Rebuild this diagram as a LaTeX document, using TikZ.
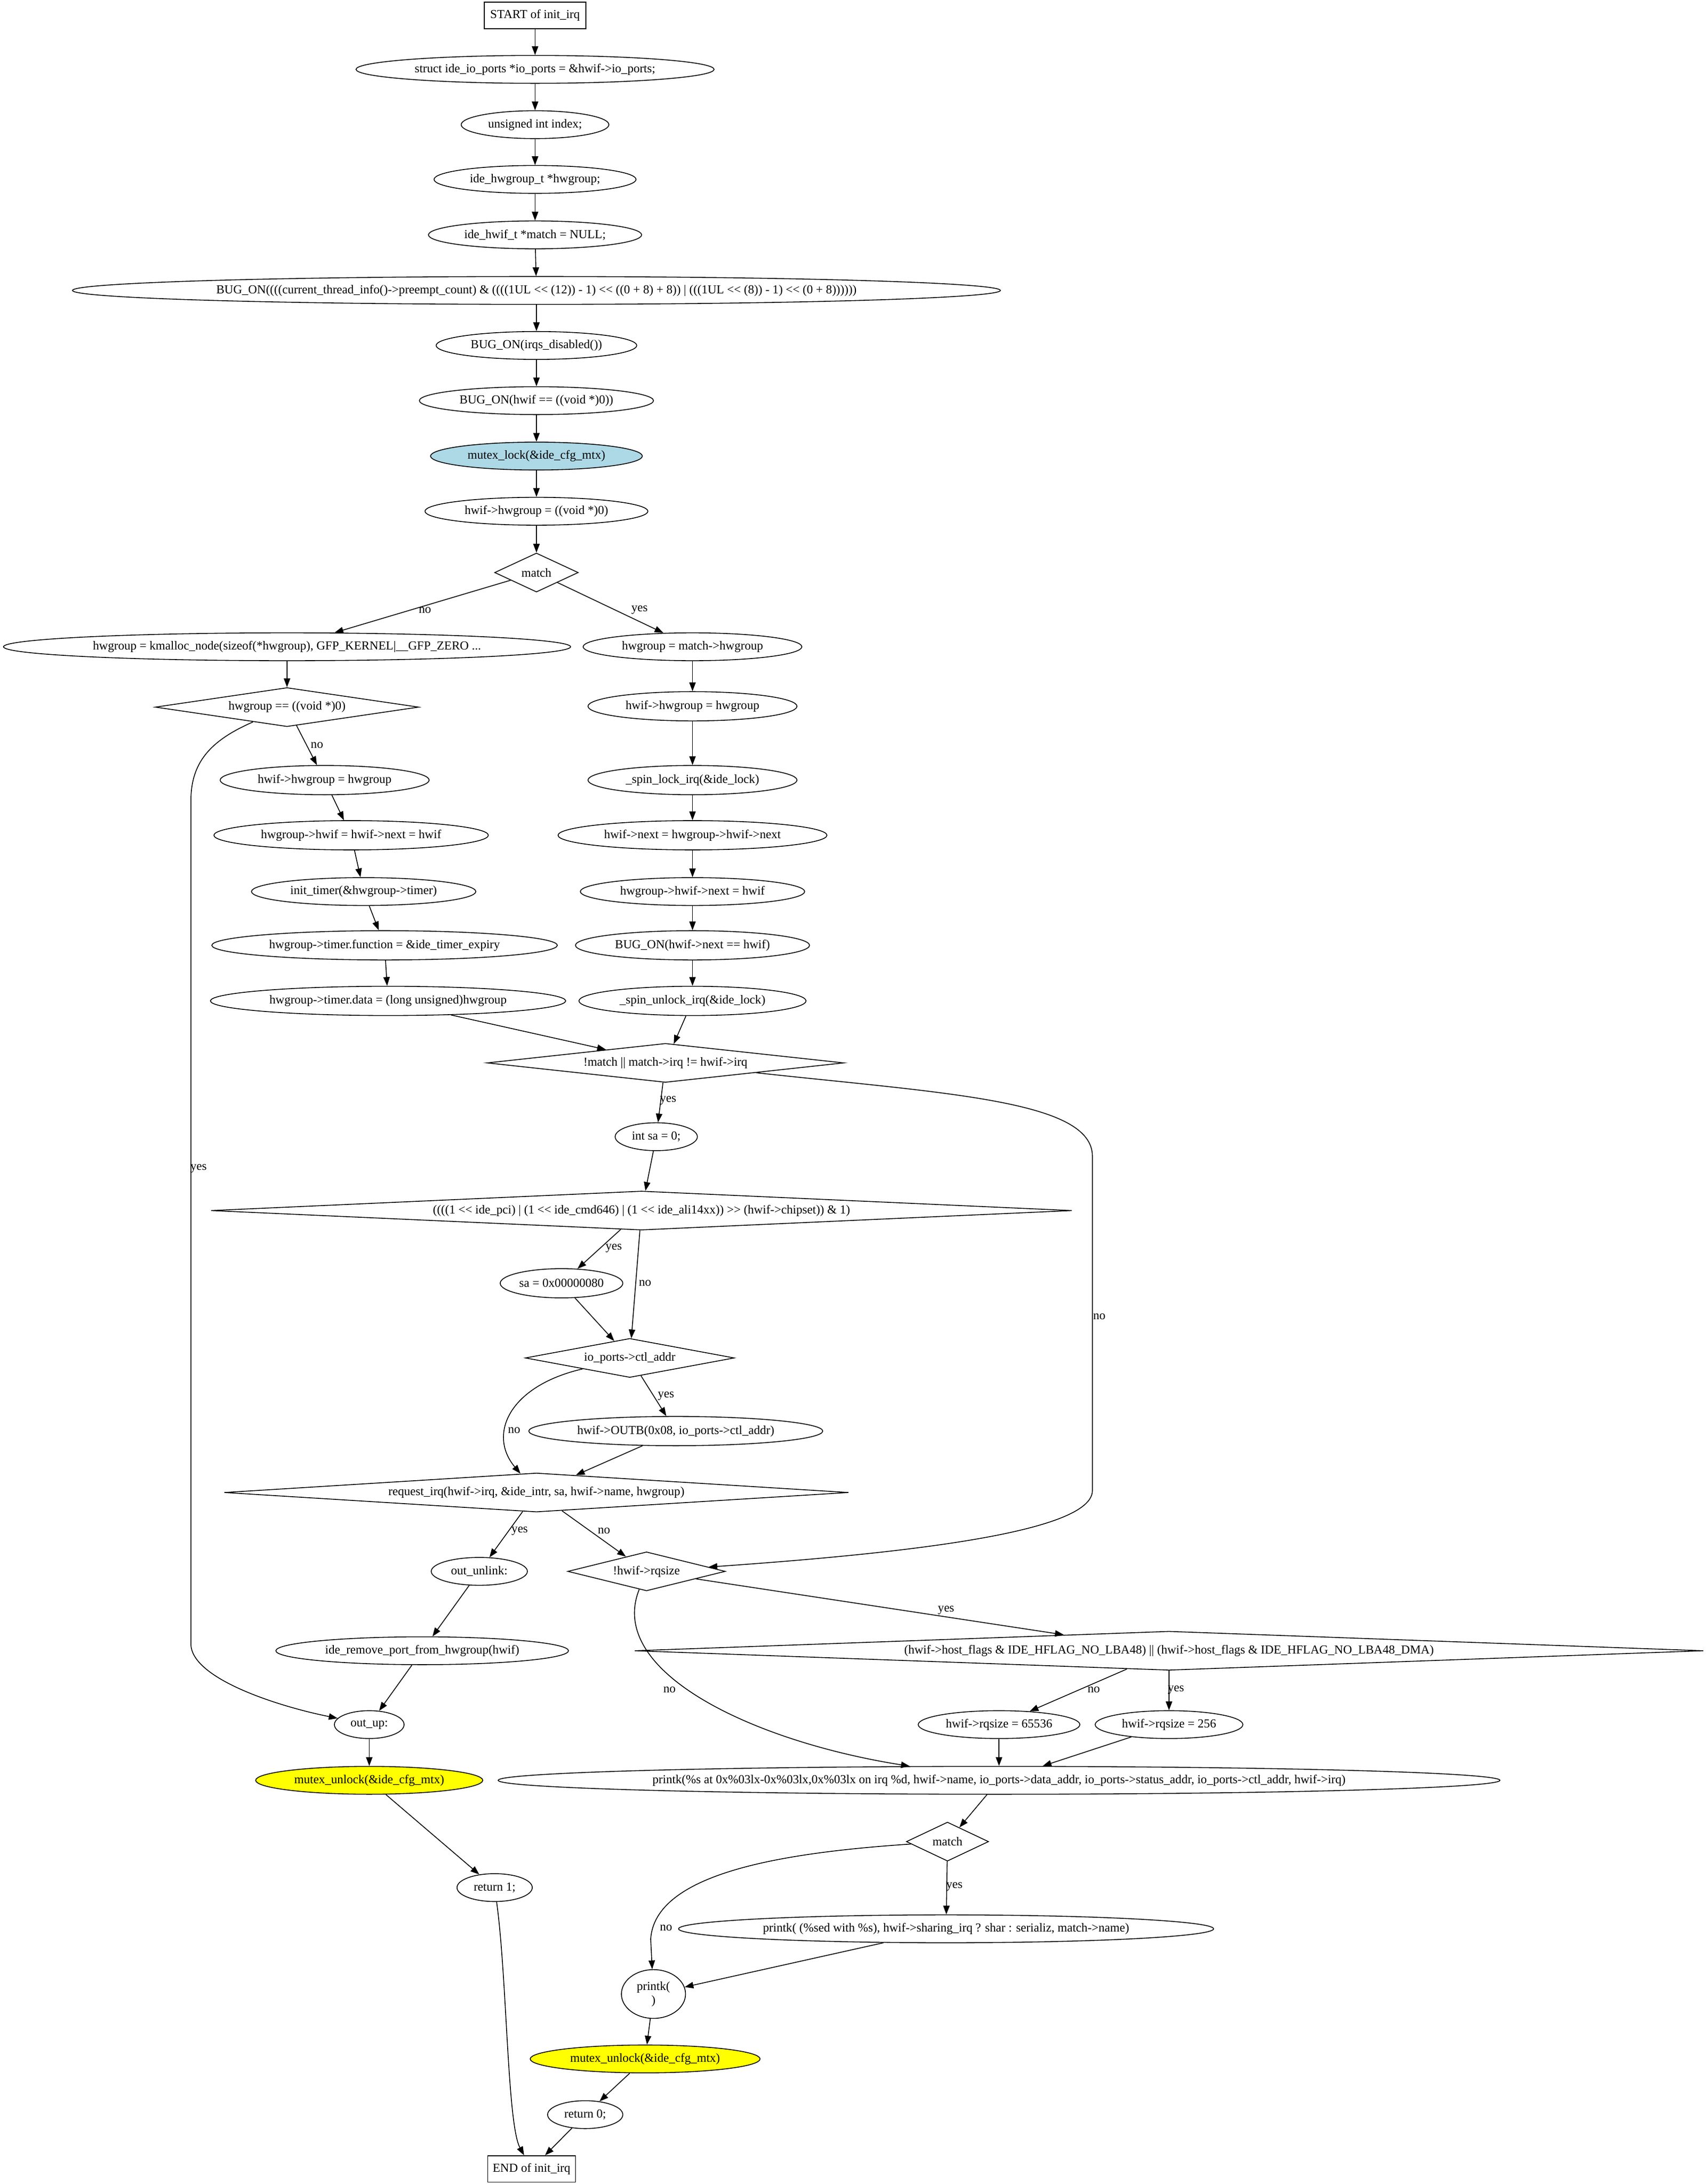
\documentclass[tikz,border=0pt]{standalone}
\usepackage{fontspec}
\setmainfont{Liberation Serif}[Ligatures=TeXOff]
\usetikzlibrary{shapes.geometric,arrows.meta}
\definecolor{lblue}{RGB}{173,216,230}
\definecolor{yel}{RGB}{255,255,0}
\newcommand{\zt}[1]{\makebox[0pt]{#1}}
\tikzset{
  el/.style={ellipse, draw, inner sep=0pt},
  dm/.style={diamond, draw, inner sep=0pt},
  bx/.style={rectangle, draw, inner sep=0pt},
  sz/.style 2 args={minimum width=#1pt, minimum height=#2pt},
  e/.style={-{Triangle[length=6.3pt,width=4.6pt]}},
  lb/.style={inner sep=0pt}
}
\begin{document}
\begin{tikzpicture}[x=1pt,y=-1pt,
  font=\fontsize{8.8}{10}\selectfont,
  line width=0.6pt]
\fill[white] (0,0) rectangle (1224.3,1567.8);
\useasboundingbox (0,0) rectangle (1224.3,1567.8);

% top chain
\node[bx, sz={73}{19}] (start) at (384,11) {\zt{START of init\_irq}};
\node[el, sz={257}{20}] (n1) at (384,49.8) {\zt{struct ide\_io\_ports *io\_ports = \&hwif->io\_ports;}};
\node[el, sz={106}{20}] (n2) at (384,89.5) {\zt{unsigned int index;}};
\node[el, sz={145}{20}] (n3) at (384,128.8) {\zt{ide\_hwgroup\_t *hwgroup;}};
\node[el, sz={153}{20}] (n4) at (384,168.6) {\zt{ide\_hwif\_t *match = NULL;}};
\node[el, sz={666}{20}] (n5) at (385,208.5) {\zt{BUG\_ON((((current\_thread\_info()->preempt\_count) \& ((((1UL << (12)) - 1) << ((0 + 8) + 8)) | (((1UL << (8)) - 1) << (0 + 8))))))}};
\node[el, sz={144}{20}] (n6) at (385,248) {\zt{BUG\_ON(irqs\_disabled())}};
\node[el, sz={168}{20}] (n7) at (385,287.6) {\zt{BUG\_ON(hwif == ((void *)0))}};
\node[el, sz={152}{20}, fill=lblue] (n8) at (385,327.4) {\zt{mutex\_lock(\&ide\_cfg\_mtx)}};
\node[el, sz={160}{20}] (n9) at (385,367) {\zt{hwif->hwgroup = ((void *)0)}};
\node[dm, sz={60}{28}, aspect=2.14] (m1) at (385,411) {\zt{match}};

% left branch
\node[el, sz={407}{20}] (kma) at (206,464.3) {\zt{hwgroup = kmalloc\_node(sizeof(*hwgroup), GFP\_KERNEL|\_\_GFP\_ZERO ...}};
\node[dm, sz={189}{28}, aspect=6.75] (hgn) at (206,507.6) {\zt{hwgroup == ((void *)0)}};
\node[el, sz={150}{21}] (lhh) at (233,560) {\zt{hwif->hwgroup = hwgroup}};
\node[el, sz={197}{21}] (lhw) at (252,599.6) {\zt{hwgroup->hwif = hwif->next = hwif}};
\node[el, sz={161}{20}] (itm) at (261,640) {\zt{init\_timer(\&hwgroup->timer)}};
\node[el, sz={248}{21}] (tfn) at (276,678.6) {\zt{hwgroup->timer.function = \&ide\_timer\_expiry}};
\node[el, sz={255}{21}] (tdt) at (278.5,718.5) {\zt{hwgroup->timer.data = (long unsigned)hwgroup}};

% right branch
\node[el, sz={157}{20}] (hgm) at (497,464.3) {\zt{hwgroup = match->hwgroup}};
\node[el, sz={150}{21}] (rhh) at (497,507) {\zt{hwif->hwgroup = hwgroup}};
\node[el, sz={150}{21}] (slk) at (497,560) {\zt{\_spin\_lock\_irq(\&ide\_lock)}};
\node[el, sz={193}{21}] (rnx) at (497,599.6) {\zt{hwif->next = hwgroup->hwif->next}};
\node[el, sz={161}{20}] (rhn) at (497,640) {\zt{hwgroup->hwif->next = hwif}};
\node[el, sz={168}{21}] (bgn) at (497,678.6) {\zt{BUG\_ON(hwif->next == hwif)}};
\node[el, sz={163}{21}] (sul) at (497,718.5) {\zt{\_spin\_unlock\_irq(\&ide\_lock)}};

% middle
\node[dm, sz={256}{28}, aspect=9.14] (nmi) at (477.6,763) {\zt{!match || match->irq != hwif->irq}};
\node[el, sz={59}{20}] (isa) at (471,816) {\zt{int sa = 0;}};
\node[dm, sz={618}{28}, aspect=22] (chp) at (460.4,869) {\zt{((((1 << ide\_pci) | (1 << ide\_cmd646) | (1 << ide\_ali14xx)) >> (hwif->chipset)) \& 1)}};
\node[el, sz={88}{21}] (sa8) at (403,921.2) {\zt{sa = 0x00000080}};
\node[dm, sz={150}{28}, aspect=5.36] (ioc) at (452,974.8) {\zt{io\_ports->ctl\_addr}};
\node[el, sz={211}{21}] (outb) at (485,1027.3) {\zt{hwif->OUTB(0x08, io\_ports->ctl\_addr)}};
\node[dm, sz={448}{28}, aspect=16] (req) at (385,1071.4) {\zt{request\_irq(hwif->irq, \&ide\_intr, sa, hwif->name, hwgroup)}};
\node[el, sz={69}{20}] (unl) at (344,1128) {\zt{out\_unlink:}};
\node[dm, sz={113}{28}, aspect=4.04] (rqs) at (464,1128) {\zt{!hwif->rqsize}};
\node[el, sz={210}{20}] (rmv) at (303,1185) {\zt{ide\_remove\_port\_from\_hwgroup(hwif)}};
\node[dm, sz={767}{28}, aspect=27.4] (hfl) at (839,1185) {\zt{(hwif->host\_flags \& IDE\_HFLAG\_NO\_LBA48) || (hwif->host\_flags \& IDE\_HFLAG\_NO\_LBA48\_DMA)}};
\node[el, sz={50}{20}] (oup) at (265,1238) {\zt{out\_up:}};
\node[el, sz={116}{20}] (r64) at (717,1238) {\zt{hwif->rqsize = 65536}};
\node[el, sz={106}{20}] (r256) at (839,1238) {\zt{hwif->rqsize = 256}};
\node[el, sz={163}{20}, fill=yel] (mu1) at (265,1278) {\zt{mutex\_unlock(\&ide\_cfg\_mtx)}};
\node[el, sz={719}{20}] (pk1) at (717,1278) {\zt{printk(\%s at 0x\%03lx-0x\%03lx,0x\%03lx on irq \%d, hwif->name, io\_ports->data\_addr, io\_ports->status\_addr, io\_ports->ctl\_addr, hwif->irq)}};
\node[dm, sz={59}{28}, aspect=2.1] (m2) at (680,1322) {\zt{match}};
\node[el, sz={54}{20}] (ret1) at (355,1355) {\zt{return 1;}};
\node[el, sz={384}{20}] (pk2) at (679,1384.6) {\zt{printk( (\%sed with \%s), hwif->sharing\_irq ? shar : serializ, match->name)}};
\node[el, sz={46}{35}, align=center] (pk3) at (469,1431.4) {printk(\\)};
\node[el, sz={165}{20}, fill=yel] (mu2) at (463,1478) {\zt{mutex\_unlock(\&ide\_cfg\_mtx)}};
\node[el, sz={54}{20}] (ret0) at (420,1518) {\zt{return 0;}};
\node[bx, sz={63}{19}] (fin) at (381.5,1557) {\zt{END of init\_irq}};

% edges: top chain
\draw[e] (start) -- (n1);
\draw[e] (n1) -- (n2);
\draw[e] (n2) -- (n3);
\draw[e] (n3) -- (n4);
\draw[e] (n4) -- (n5);
\draw[e] (n5) -- (n6);
\draw[e] (n6) -- (n7);
\draw[e] (n7) -- (n8);
\draw[e] (n8) -- (n9);
\draw[e] (n9) -- (m1);
\draw[e] (m1) -- (kma) node[lb] at (305,438) {no};
\draw[e] (m1) -- (hgm) node[lb] at (459,438) {yes};

% left branch edges
\draw[e] (kma) -- (hgn);
\draw[e] (hgn) -- (lhh) node[lb] at (227.5,535) {no};
\draw[e] (hgn) .. controls (150,532) and (137,548) .. (137,575) -- (137,1180)
   .. controls (137,1205) and (200,1225) .. (oup) node[lb] at (142.5,839) {yes};
\draw[e] (lhh) -- (lhw);
\draw[e] (lhw) -- (itm);
\draw[e] (itm) -- (tfn);
\draw[e] (tfn) -- (tdt);
\draw[e] (tdt) -- (nmi);

% right branch edges
\draw[e] (hgm) -- (rhh);
\draw[e] (rhh) -- (slk);
\draw[e] (slk) -- (rnx);
\draw[e] (rnx) -- (rhn);
\draw[e] (rhn) -- (bgn);
\draw[e] (bgn) -- (sul);
\draw[e] (sul) -- (nmi);

% middle edges
\draw[e] (nmi) -- (isa) node[lb] at (479.5,790) {yes};
\draw[e] (nmi) .. controls (680,785) and (784,790) .. (784,830) -- (784,1070)
   .. controls (784,1100) and (650,1115) .. (rqs) node[lb] at (789,945) {no};
\draw[e] (isa) -- (chp);
\draw[e] (chp) -- (sa8) node[lb] at (440.5,896) {yes};
\draw[e] (chp) -- (ioc) node[lb] at (463,921) {no};
\draw[e] (sa8) -- (ioc);
\draw[e] (ioc) -- (outb) node[lb] at (478,1002) {yes};
\draw[e] (ioc) .. controls (365,995) and (350,1030) .. (req) node[lb] at (369,1027) {no};
\draw[e] (outb) -- (req);
\draw[e] (req) -- (unl) node[lb] at (373,1099) {yes};
\draw[e] (req) -- (rqs) node[lb] at (433.5,1099) {no};
\draw[e] (unl) -- (rmv);
\draw[e] (rmv) -- (oup);
\draw[e] (rqs) -- (hfl) node[lb] at (679,1156) {yes};
\draw[e] (rqs) .. controls (435,1200) and (540,1250) .. (pk1) node[lb] at (480.5,1213) {no};
\draw[e] (hfl) -- (r64) node[lb] at (785,1213) {no};
\draw[e] (hfl) -- (r256) node[lb] at (844,1213) {yes};
\draw[e] (r64) -- (pk1);
\draw[e] (r256) -- (pk1);

% bottom edges
\draw[e] (oup) -- (mu1);
\draw[e] (mu1) -- (ret1);
\draw[e] (ret1) .. controls (364,1420) and (364,1525) .. (fin);
\draw[e] (pk1) -- (m2);
\draw[e] (m2) -- (pk2) node[lb] at (685,1354.5) {yes};
\draw[e] (m2) .. controls (560,1330) and (470,1345) .. (467,1392) -- (pk3) node[lb] at (478,1384) {no};
\draw[e] (pk2) -- (pk3);
\draw[e] (pk3) -- (mu2);
\draw[e] (mu2) -- (ret0);
\draw[e] (ret0) -- (fin);
\end{tikzpicture}
\end{document}
